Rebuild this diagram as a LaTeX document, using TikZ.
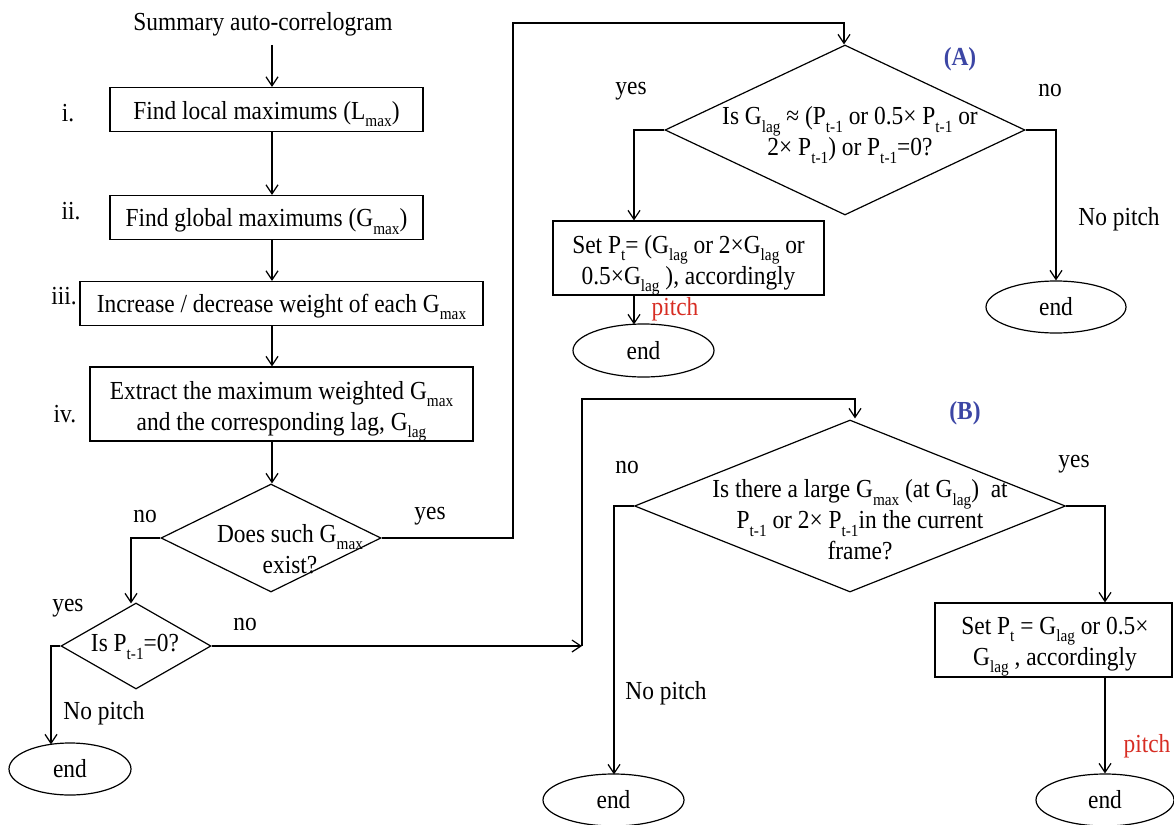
\documentclass[tikz,border=0pt]{standalone}
\usepackage{fontspec}
\setmainfont{Liberation Serif}[FakeStretch=0.9]
\usetikzlibrary{shapes.geometric,arrows.meta}
\newcommand{\lsub}[1]{\raisebox{-0.28em}{\fontsize{17}{17}\selectfont #1}}
\definecolor{pitchred}{RGB}{215,45,35}
\definecolor{labblue}{RGB}{60,70,165}
\begin{document}
\begin{tikzpicture}[x=1pt,y=-1pt,
  line width=1.2pt,
  >={Straight Barb[length=9pt,width=12pt,line width=1.2pt]},
  every node/.style={font=\fontsize{26}{31}\selectfont, inner sep=0pt},
  box/.style={draw, rectangle},
  dia/.style={draw, diamond},
  term/.style={draw, ellipse},
  txt/.style={align=center},
  red lab/.style={text=pitchred},
  blue lab/.style={text=labblue, font=\fontsize{26}{31}\selectfont\bfseries}]
\useasboundingbox (0,0) rectangle (1174,824);
% column coordinates
\coordinate (sx) at (272,0);
\coordinate (lx) at (131,0);
\coordinate (ex) at (51,0);
\coordinate (jx) at (513,0);
\coordinate (jy) at (0,23);
\coordinate (ax) at (844,0);
\coordinate (ayx) at (634,0);
\coordinate (anx) at (1056,0);
\coordinate (bx) at (582,0);
\coordinate (by) at (0,399);
\coordinate (btx) at (855,0);
\coordinate (bnx) at (614,0);
\coordinate (byx) at (1105,0);
% main column
\node[txt] (title) at (263,24) {Summary auto-correlogram};
\coordinate (tstart) at (272,45);
\node[box, minimum width=313, minimum height=44] (b1) at (266.5,109.5) {};
\node[txt] (b1t) at (266.5,114) {Find local maximums (L\lsub{max})};
\node[box, minimum width=313, minimum height=44] (b2) at (266.5,217.5) {};
\node[txt] (b2t) at (266.5,221.5) {Find global maximums (G\lsub{max})};
\node[box, minimum width=403, minimum height=44] (b3) at (281.5,303.5) {};
\node[txt] (b3t) at (281.5,307) {Increase / decrease weight of each G\lsub{max}};
\node[box, minimum width=383, minimum height=74] (b4) at (281.5,404) {};
\node[txt] (b4t) at (281.5,411) {Extract the maximum weighted G\lsub{max}\\and the corresponding lag, G\lsub{lag}};
\node (li) at (68,113) {i.};
\node (lii) at (71,211) {ii.};
\node (liii) at (64,296) {iii.};
\node (liv) at (65,414) {iv.};
% decision 1
\node[dia, minimum width=220, minimum height=108] (d1) at (271,538) {};
\node[txt] (d1t) at (290,549) {Does such G\lsub{max}\\exist?};
\node (d1no) at (145,516) {no};
\node (d1yes) at (430,516) {yes};
% decision 2
\node[dia, minimum width=150, minimum height=86] (d2) at (136,646) {};
\node[txt] (d2t) at (135,647) {Is P\lsub{t-1}=0?};
\node (d2yes) at (68,608) {yes};
\node (d2no) at (245,624) {no};
\node (d2np) at (104,713) {No pitch};
\node[term, minimum width=122, minimum height=52] (e0) at (70,769) {end};
% branch A
\node[dia, minimum width=360, minimum height=170] (dA) at (845,130) {};
\node[txt] (dAt) at (850,135) {Is G\lsub{lag} ≈ (P\lsub{t-1} or 0.5× P\lsub{t-1} or\\2× P\lsub{t-1}) or P\lsub{t-1}=0?};
\node[blue lab] (Alab) at (960,59) {(A)};
\node (Ayes) at (631,91) {yes};
\node (Ano) at (1050,91) {no};
\node[box, minimum width=271, minimum height=74] (bA) at (688.5,258) {};
\node[txt] (bAt) at (688.5,265) {Set P\lsub{t}= (G\lsub{lag} or 2×G\lsub{lag} or\\0.5×G\lsub{lag} ), accordingly};
\node[red lab] (Apitch) at (675,309) {pitch};
\node[term, minimum width=141, minimum height=53] (eA1) at (643.5,350.5) {end};
\node (Anp) at (1119,219) {No pitch};
\node[term, minimum width=140, minimum height=52] (eA2) at (1056,307) {end};
% branch B
\node[dia, minimum width=431, minimum height=172] (dB) at (850,506) {};
\node[txt] (dBt) at (860,520) {Is there a large G\lsub{max} (at G\lsub{lag})~ at\\P\lsub{t-1} or 2× P\lsub{t-1}in the current\\frame?};
\node[blue lab] (Blab) at (965,413) {(B)};
\node (Bno) at (627,467) {no};
\node (Byes) at (1074,464) {yes};
\node (Bnp) at (666,693) {No pitch};
\node[term, minimum width=141, minimum height=52] (eB1) at (613.5,800) {end};
\node[box, minimum width=237, minimum height=74] (bB) at (1053.5,640) {};
\node[txt] (bBt) at (1055,647) {Set P\lsub{t} = G\lsub{lag} or 0.5×\\G\lsub{lag} , accordingly};
\node[red lab] (Bpitch) at (1147,746) {pitch};
\node[term, minimum width=138, minimum height=52] (eB2) at (1105,800) {end};
% connectors main column
\draw[->] (tstart) -- (b1.north -| sx);
\draw[->] (b1.south -| sx) -- (b2.north -| sx);
\draw[->] (b2.south -| sx) -- (b3.north -| sx);
\draw[->] (b3.south -| sx) -- (b4.north -| sx);
\draw[->] (b4.south -| sx) -- (d1.north -| sx);
% d1 no -> d2
\draw[->] (d1.west) -- (d1.west -| lx) -- ([yshift=-1pt]d2.north -| lx);
% d2 yes -> end
\draw[->] (d2.west) -- (d2.west -| ex) -- ([yshift=-2pt]e0.north -| ex);
% d2 no -> B
\draw[->] (d2.east) -- (d2.east -| bx);
\draw[->] (d2.east -| bx) -- (by -| bx) -- (by -| btx) -- ([yshift=1pt]dB.north -| btx);
% d1 yes -> A
\draw[->] (d1.east) -- (d1.east -| jx) -- (jy -| jx) -- (jy -| ax) -- (dA.north -| ax);
% A
\draw[->] (dA.west) -- (dA.west -| ayx) -- (bA.north -| ayx);
\draw[->] (bA.south -| ayx) -- ([yshift=-1pt]eA1.north -| ayx);
\draw[->] (dA.east) -- (dA.east -| anx) -- (eA2.north -| anx);
% B
\draw[->] (dB.west) -- (dB.west -| bnx) -- ([yshift=-1pt]eB1.north -| bnx);
\draw[->] (dB.east) -- (dB.east -| byx) -- (bB.north -| byx);
\draw[->] (bB.south -| byx) -- (eB2.north -| byx);
\end{tikzpicture}
\end{document}
